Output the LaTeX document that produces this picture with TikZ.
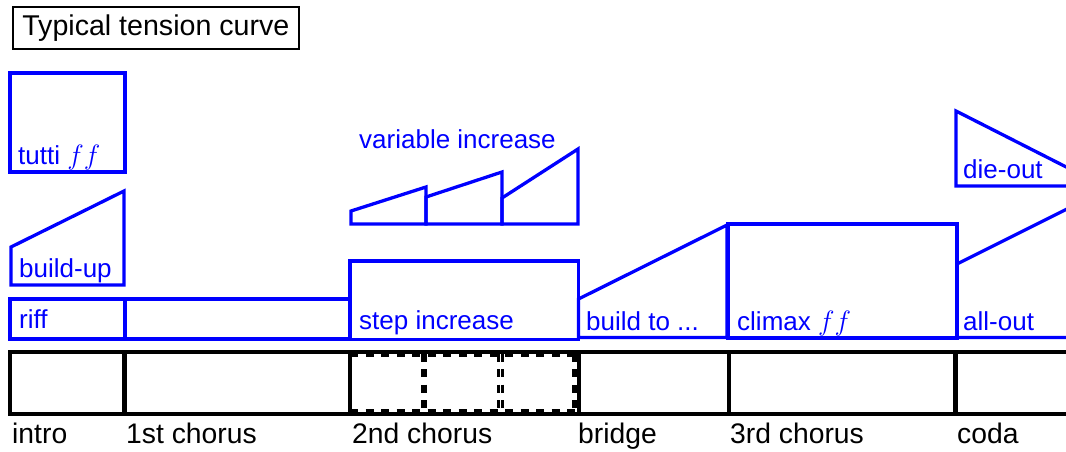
\RequirePackage{fix-cm}
\documentclass[tikz,border=0pt]{standalone}
\usepackage{fontspec}
\setmainfont{Liberation Sans}
\definecolor{tblue}{RGB}{0,0,255}
\newcommand{\dynff}{{\fontsize{28}{33}\selectfont$ff$}}
\tikzset{
  klabel/.style={anchor=base west, inner sep=0pt, font=\fontsize{28.3}{33}\selectfont},
  blabel/.style={anchor=base west, inner sep=0pt, text=tblue, font=\fontsize{26}{31}\selectfont},
  bshape/.style={draw=tblue, line width=3.3pt},
  bthick/.style={draw=tblue, line width=4pt},
  kline/.style={draw=black, line width=4pt},
  ksep/.style={draw=black, line width=4.8pt},
  kdash/.style={draw=black, line width=6pt, dash pattern=on 8pt off 7.5pt},
  kthin/.style={draw=black, line width=3pt, dash pattern=on 8pt off 7.5pt},
}
\begin{document}
\begin{tikzpicture}[x=1pt,y=-1pt]
\useasboundingbox (0,0) rectangle (1066,451);
\clip (0,0) rectangle (1066,451);
% title
\node[draw, line width=2pt, anchor=base west, inner xsep=9.6pt, inner ysep=0pt,
      text height=28.3pt, text depth=14pt, font=\fontsize{28.6}{33}\selectfont]
      (title) at (11.7,35) {Typical tension curve};
% black form box
\draw[kline] (1075,352) -- (10.3,352) -- (10.3,413.5) -- (1075,413.5);
\foreach \x in {124.7,350,579,729,955.5}
  \draw[ksep] (\x,352) -- (\x,413.5);
% dashed subdivisions of 2nd chorus
\draw[kdash] (350,353.5) -- (575,353.5);
\draw[kdash] (350,411.8) -- (575,411.8);
\draw[kdash] (424,353.5) -- (424,411.8);
\draw[kdash] (575,353.5) -- (575,411.8);
\draw[kthin] (498.5,353.5) -- (498.5,411.8);
\draw[kthin] (502.5,353.5) -- (502.5,411.8);
% section labels
\node[klabel] (intro) at (12,443) {intro};
\node[klabel] (ch1) at (126,443) {1st chorus};
\node[klabel] (ch2) at (352,443) {2nd chorus};
\node[klabel] (bridge) at (578,443) {bridge};
\node[klabel] (ch3) at (730,443) {3rd chorus};
\node[klabel] (coda) at (957,443) {coda};
% intro alternatives
\draw[bshape] (10,73) rectangle (125,172);
\node[blabel] (tutti) at (18,164) {tutti \dynff};
\draw[bshape] (11,285) -- (11,247) -- (124,191) -- (124,285) -- cycle;
\node[blabel] (buildup) at (19,277) {build-up};
\draw[bthick] (10,299) rectangle (124.5,339);
\node[blabel] (riff) at (19,328) {riff};
% 1st chorus
\draw[bthick] (124.5,299) rectangle (350,339);
% 2nd chorus
\draw[bshape] (351,224) -- (351,211) -- (426,187) -- (426,224) -- cycle;
\draw[bshape] (426,224) -- (426,197) -- (502,172) -- (502,224) -- cycle;
\draw[bshape] (502,224) -- (502,198) -- (578,149) -- (578,224) -- cycle;
\node[blabel] (varinc) at (359,148) {variable increase};
\draw[bshape] (350,261) rectangle (578.5,339.5);
\node[blabel] (stepinc) at (359,329) {step increase};
% bridge
\draw[bshape] (578.5,337.5) -- (578.5,299) -- (727,225) -- (727,337.5) -- cycle;
\node[blabel] (buildto) at (586,330) {build to ...};
% 3rd chorus
\draw[bshape] (728,224) rectangle (957,338);
\node[blabel] (climax) at (737,330) {climax \dynff};
% coda
\draw[bshape] (957,337.5) -- (957,264) -- (1080,202.5) -- (1080,337.5) -- cycle;
\node[blabel] (allout) at (963,330) {all-out};
\draw[bshape] (956,186) -- (956,111) -- (1080,174) -- (1080,186) -- cycle;
\node[blabel] (dieout) at (963,178) {die-out};
\end{tikzpicture}
\end{document}
